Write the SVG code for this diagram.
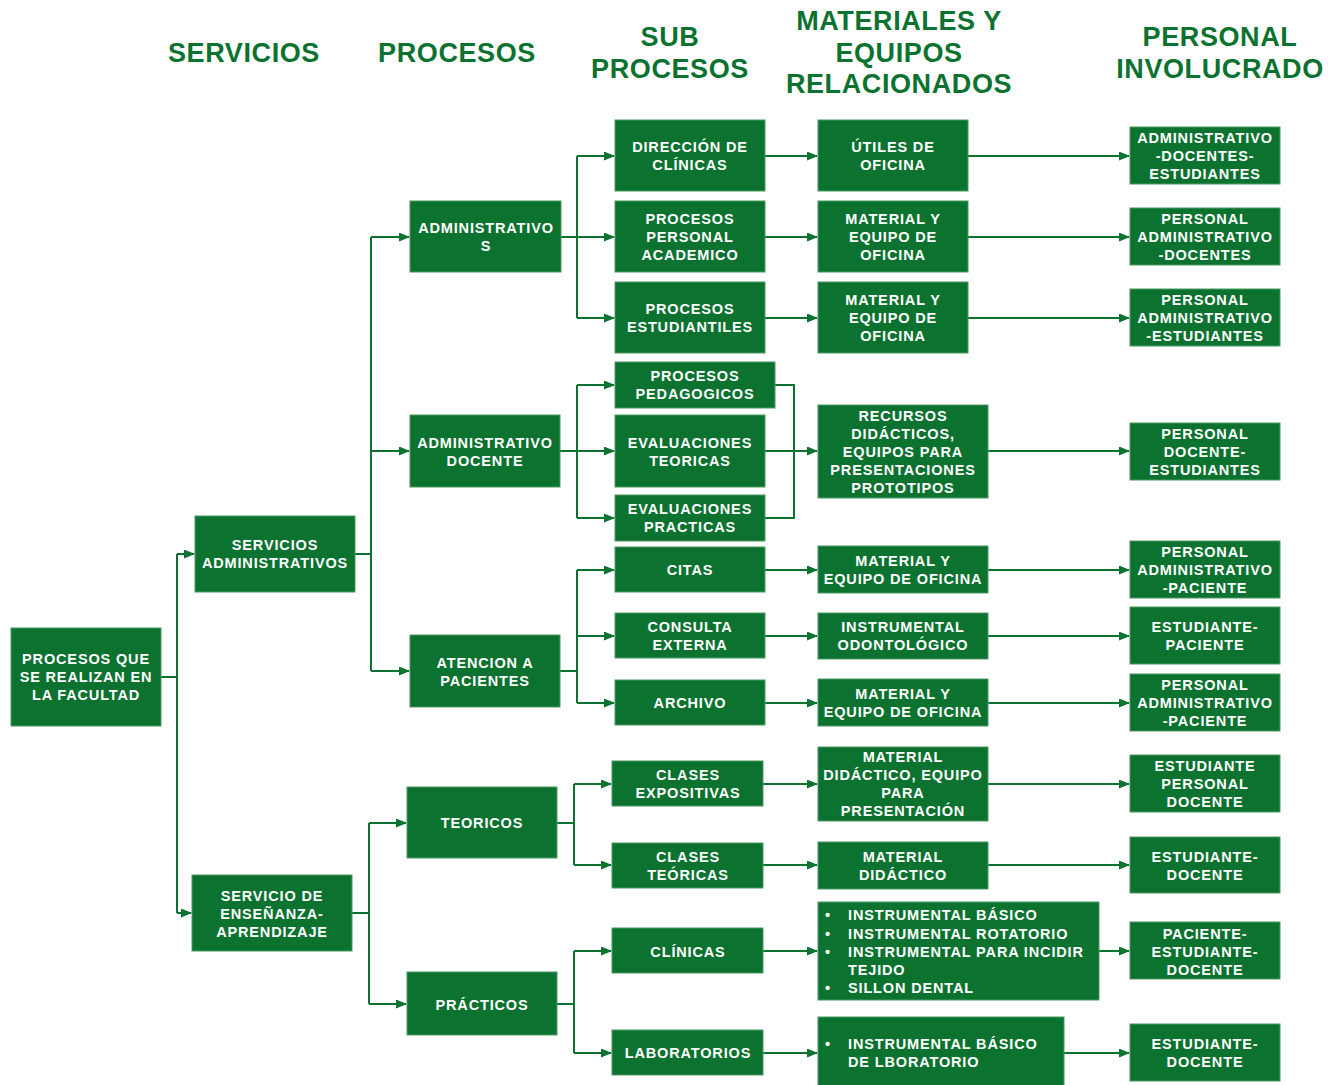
<svg xmlns="http://www.w3.org/2000/svg" width="1328" height="1085" viewBox="0 0 1328 1085">
  <style>
    .box { fill: #0b7230; stroke: #4c9a62; stroke-width: 1; }
    .t { font-family: "Liberation Sans", Arial, sans-serif; font-weight: bold; font-size: 14.5px; letter-spacing: 0.85px; fill: #ffffff; text-anchor: middle; }
    .tl { font-family: "Liberation Sans", Arial, sans-serif; font-weight: bold; font-size: 14.5px; letter-spacing: 0.85px; fill: #ffffff; }
    .h { font-family: "Liberation Sans", Arial, sans-serif; font-weight: bold; font-size: 27px; letter-spacing: 0.6px; fill: #0b7230; text-anchor: middle; }
    .c { fill: none; stroke: #0b7230; stroke-width: 2; }
    .a { fill: none; stroke: #0b7230; stroke-width: 2; marker-end: url(#arr); }
  </style>
  <defs>
    <marker id="arr" markerWidth="11" markerHeight="10" refX="10" refY="4.5" orient="auto" markerUnits="userSpaceOnUse">
      <path d="M0,0 L11,4.5 L0,9 Z" fill="#0b7230"/>
    </marker>
  </defs>

  <rect width="1328" height="1085" fill="#ffffff"/>

  <!-- column headings -->
  <g id="headers">
    <text class="h" x="244" y="62">SERVICIOS</text>
    <text class="h" x="457" y="62">PROCESOS</text>
    <text class="h" x="670" y="46">SUB</text>
    <text class="h" x="670" y="78">PROCESOS</text>
    <text class="h" x="899" y="30">MATERIALES Y</text>
    <text class="h" x="899" y="62">EQUIPOS</text>
    <text class="h" x="899" y="93">RELACIONADOS</text>
    <text class="h" x="1220" y="46">PERSONAL</text>
    <text class="h" x="1220" y="78">INVOLUCRADO</text>
  </g>

  <!-- connectors -->
  <g id="connectors">
    <!-- root to services -->
    <path class="c" d="M161,677 H177"/>
    <path class="c" d="M177,554 V913"/>
    <path class="a" d="M177,554 H194"/>
    <path class="a" d="M177,913 H191"/>
    <!-- administrative services to processes -->
    <path class="c" d="M355,554 H371"/>
    <path class="c" d="M371,237 V671"/>
    <path class="a" d="M371,237 H409"/>
    <path class="a" d="M371,451 H409"/>
    <path class="a" d="M371,671 H409"/>
    <!-- teaching service to processes -->
    <path class="c" d="M352,913 H369"/>
    <path class="c" d="M369,823 V1004"/>
    <path class="a" d="M369,823 H406"/>
    <path class="a" d="M369,1004 H406"/>
    <!-- ADMINISTRATIVOS -->
    <path class="c" d="M561,237 H577"/>
    <path class="c" d="M577,156 V318"/>
    <path class="a" d="M577,156 H614"/>
    <path class="a" d="M577,237 H614"/>
    <path class="a" d="M577,318 H614"/>
    <!-- ADMINISTRATIVO DOCENTE -->
    <path class="c" d="M560,451 H577"/>
    <path class="c" d="M577,385 V518"/>
    <path class="a" d="M577,385 H614"/>
    <path class="a" d="M577,451 H614"/>
    <path class="a" d="M577,518 H614"/>
    <!-- ATENCION A PACIENTES -->
    <path class="c" d="M560,671 H577"/>
    <path class="c" d="M577,570 V703"/>
    <path class="a" d="M577,570 H614"/>
    <path class="a" d="M577,636 H614"/>
    <path class="a" d="M577,703 H614"/>
    <!-- TEORICOS -->
    <path class="c" d="M557,823 H574"/>
    <path class="c" d="M574,784 V865"/>
    <path class="a" d="M574,784 H611"/>
    <path class="a" d="M574,865 H611"/>
    <!-- PRÁCTICOS -->
    <path class="c" d="M557,1004 H574"/>
    <path class="c" d="M574,951 V1053"/>
    <path class="a" d="M574,951 H611"/>
    <path class="a" d="M574,1053 H611"/>
    <!-- sub-processes to materials -->
    <path class="a" d="M765,156 H817"/>
    <path class="a" d="M765,237 H817"/>
    <path class="a" d="M765,318 H817"/>
    <path class="c" d="M775,385 H794 V518 H765"/>
    <path class="a" d="M765,451 H817"/>
    <path class="a" d="M765,570 H817"/>
    <path class="a" d="M765,636 H817"/>
    <path class="a" d="M765,703 H817"/>
    <path class="a" d="M763,784 H817"/>
    <path class="a" d="M763,865 H817"/>
    <path class="a" d="M763,951 H817"/>
    <path class="a" d="M763,1053 H817"/>
    <!-- materials to staff -->
    <path class="a" d="M968,156 H1129"/>
    <path class="a" d="M968,237 H1129"/>
    <path class="a" d="M968,318 H1129"/>
    <path class="a" d="M988,451 H1129"/>
    <path class="a" d="M988,570 H1129"/>
    <path class="a" d="M988,636 H1129"/>
    <path class="a" d="M988,703 H1129"/>
    <path class="a" d="M988,784 H1129"/>
    <path class="a" d="M988,865 H1129"/>
    <path class="a" d="M1099,951 H1129"/>
    <path class="a" d="M1064,1053 H1129"/>
  </g>

  <!-- root -->
  <g id="n-root">
    <rect class="box" x="11" y="628" width="150" height="98"/>
    <text class="t" x="86" y="664">PROCESOS QUE</text>
    <text class="t" x="86" y="682">SE REALIZAN EN</text>
    <text class="t" x="86" y="700">LA FACULTAD</text>
  </g>

  <!-- services -->
  <g id="n-serv-admin">
    <rect class="box" x="195" y="516" width="160" height="76"/>
    <text class="t" x="275" y="550">SERVICIOS</text>
    <text class="t" x="275" y="568">ADMINISTRATIVOS</text>
  </g>
  <g id="n-serv-ense">
    <rect class="box" x="192" y="875" width="160" height="76"/>
    <text class="t" x="272" y="901">SERVICIO DE</text>
    <text class="t" x="272" y="919">ENSEÑANZA-</text>
    <text class="t" x="272" y="937">APRENDIZAJE</text>
  </g>

  <!-- processes -->
  <g id="n-administrativos">
    <rect class="box" x="410" y="201" width="151" height="71"/>
    <text class="t" x="486" y="233">ADMINISTRATIVO</text>
    <text class="t" x="486" y="251">S</text>
  </g>
  <g id="n-admin-docente">
    <rect class="box" x="410" y="415" width="150" height="72"/>
    <text class="t" x="485" y="448">ADMINISTRATIVO</text>
    <text class="t" x="485" y="466">DOCENTE</text>
  </g>
  <g id="n-atencion">
    <rect class="box" x="410" y="635" width="150" height="72"/>
    <text class="t" x="485" y="668">ATENCION A</text>
    <text class="t" x="485" y="686">PACIENTES</text>
  </g>
  <g id="n-teoricos">
    <rect class="box" x="407" y="787" width="150" height="71"/>
    <text class="t" x="482" y="828">TEORICOS</text>
  </g>
  <g id="n-practicos">
    <rect class="box" x="407" y="972" width="150" height="63"/>
    <text class="t" x="482" y="1010">PRÁCTICOS</text>
  </g>

  <!-- sub-processes -->
  <g id="n-direccion">
    <rect class="box" x="615" y="120" width="150" height="71"/>
    <text class="t" x="690" y="152">DIRECCIÓN DE</text>
    <text class="t" x="690" y="170">CLÍNICAS</text>
  </g>
  <g id="n-personal-academico">
    <rect class="box" x="615" y="201" width="150" height="71"/>
    <text class="t" x="690" y="224">PROCESOS</text>
    <text class="t" x="690" y="242">PERSONAL</text>
    <text class="t" x="690" y="260">ACADEMICO</text>
  </g>
  <g id="n-estudiantiles">
    <rect class="box" x="615" y="282" width="150" height="71"/>
    <text class="t" x="690" y="314">PROCESOS</text>
    <text class="t" x="690" y="332">ESTUDIANTILES</text>
  </g>
  <g id="n-pedagogicos">
    <rect class="box" x="615" y="362" width="160" height="46"/>
    <text class="t" x="695" y="381">PROCESOS</text>
    <text class="t" x="695" y="399">PEDAGOGICOS</text>
  </g>
  <g id="n-eval-teoricas">
    <rect class="box" x="615" y="415" width="150" height="72"/>
    <text class="t" x="690" y="448">EVALUACIONES</text>
    <text class="t" x="690" y="466">TEORICAS</text>
  </g>
  <g id="n-eval-practicas">
    <rect class="box" x="615" y="495" width="150" height="46"/>
    <text class="t" x="690" y="514">EVALUACIONES</text>
    <text class="t" x="690" y="532">PRACTICAS</text>
  </g>
  <g id="n-citas">
    <rect class="box" x="615" y="547" width="150" height="45"/>
    <text class="t" x="690" y="575">CITAS</text>
  </g>
  <g id="n-consulta">
    <rect class="box" x="615" y="613" width="150" height="45"/>
    <text class="t" x="690" y="632">CONSULTA</text>
    <text class="t" x="690" y="650">EXTERNA</text>
  </g>
  <g id="n-archivo">
    <rect class="box" x="615" y="680" width="150" height="45"/>
    <text class="t" x="690" y="708">ARCHIVO</text>
  </g>
  <g id="n-expositivas">
    <rect class="box" x="612" y="761" width="151" height="45"/>
    <text class="t" x="688" y="780">CLASES</text>
    <text class="t" x="688" y="798">EXPOSITIVAS</text>
  </g>
  <g id="n-clases-teoricas">
    <rect class="box" x="612" y="843" width="151" height="45"/>
    <text class="t" x="688" y="862">CLASES</text>
    <text class="t" x="688" y="880">TEÓRICAS</text>
  </g>
  <g id="n-clinicas">
    <rect class="box" x="612" y="928" width="151" height="45"/>
    <text class="t" x="688" y="957">CLÍNICAS</text>
  </g>
  <g id="n-laboratorios">
    <rect class="box" x="612" y="1030" width="151" height="45"/>
    <text class="t" x="688" y="1058">LABORATORIOS</text>
  </g>

  <!-- materials and equipment -->
  <g id="m-utiles">
    <rect class="box" x="818" y="120" width="150" height="71"/>
    <text class="t" x="893" y="152">ÚTILES DE</text>
    <text class="t" x="893" y="170">OFICINA</text>
  </g>
  <g id="m-oficina-1">
    <rect class="box" x="818" y="201" width="150" height="71"/>
    <text class="t" x="893" y="224">MATERIAL Y</text>
    <text class="t" x="893" y="242">EQUIPO DE</text>
    <text class="t" x="893" y="260">OFICINA</text>
  </g>
  <g id="m-oficina-2">
    <rect class="box" x="818" y="282" width="150" height="71"/>
    <text class="t" x="893" y="305">MATERIAL Y</text>
    <text class="t" x="893" y="323">EQUIPO DE</text>
    <text class="t" x="893" y="341">OFICINA</text>
  </g>
  <g id="m-recursos">
    <rect class="box" x="818" y="405" width="170" height="93"/>
    <text class="t" x="903" y="421">RECURSOS</text>
    <text class="t" x="903" y="439">DIDÁCTICOS,</text>
    <text class="t" x="903" y="457">EQUIPOS PARA</text>
    <text class="t" x="903" y="475">PRESENTACIONES</text>
    <text class="t" x="903" y="493">PROTOTIPOS</text>
  </g>
  <g id="m-oficina-citas">
    <rect class="box" x="818" y="546" width="170" height="47"/>
    <text class="t" x="903" y="566">MATERIAL Y</text>
    <text class="t" x="903" y="584">EQUIPO DE OFICINA</text>
  </g>
  <g id="m-odontologico">
    <rect class="box" x="818" y="613" width="170" height="46"/>
    <text class="t" x="903" y="632">INSTRUMENTAL</text>
    <text class="t" x="903" y="650">ODONTOLÓGICO</text>
  </g>
  <g id="m-oficina-archivo">
    <rect class="box" x="818" y="679" width="170" height="47"/>
    <text class="t" x="903" y="699">MATERIAL Y</text>
    <text class="t" x="903" y="717">EQUIPO DE OFICINA</text>
  </g>
  <g id="m-didactico-presentacion">
    <rect class="box" x="818" y="747" width="170" height="74"/>
    <text class="t" x="903" y="762">MATERIAL</text>
    <text class="t" x="903" y="780">DIDÁCTICO, EQUIPO</text>
    <text class="t" x="903" y="798">PARA</text>
    <text class="t" x="903" y="816">PRESENTACIÓN</text>
  </g>
  <g id="m-didactico">
    <rect class="box" x="818" y="842" width="170" height="47"/>
    <text class="t" x="903" y="862">MATERIAL</text>
    <text class="t" x="903" y="880">DIDÁCTICO</text>
  </g>
  <g id="m-clinicas">
    <rect class="box" x="818" y="902" width="281" height="98"/>
    <text class="tl" x="825" y="920">•</text>
    <text class="tl" x="848" y="920">INSTRUMENTAL BÁSICO</text>
    <text class="tl" x="825" y="939">•</text>
    <text class="tl" x="848" y="939">INSTRUMENTAL ROTATORIO</text>
    <text class="tl" x="825" y="957">•</text>
    <text class="tl" x="848" y="957">INSTRUMENTAL PARA INCIDIR</text>
    <text class="tl" x="848" y="975">TEJIDO</text>
    <text class="tl" x="825" y="993">•</text>
    <text class="tl" x="848" y="993">SILLON DENTAL</text>
  </g>
  <g id="m-laboratorio">
    <rect class="box" x="818" y="1017" width="246" height="70"/>
    <text class="tl" x="825" y="1049">•</text>
    <text class="tl" x="848" y="1049">INSTRUMENTAL BÁSICO</text>
    <text class="tl" x="848" y="1067">DE LBORATORIO</text>
  </g>

  <!-- staff involved -->
  <g id="p-1">
    <rect class="box" x="1130" y="127" width="150" height="57"/>
    <text class="t" x="1205" y="143">ADMINISTRATIVO</text>
    <text class="t" x="1205" y="161">-DOCENTES-</text>
    <text class="t" x="1205" y="179">ESTUDIANTES</text>
  </g>
  <g id="p-2">
    <rect class="box" x="1130" y="208" width="150" height="57"/>
    <text class="t" x="1205" y="224">PERSONAL</text>
    <text class="t" x="1205" y="242">ADMINISTRATIVO</text>
    <text class="t" x="1205" y="260">-DOCENTES</text>
  </g>
  <g id="p-3">
    <rect class="box" x="1130" y="289" width="150" height="57"/>
    <text class="t" x="1205" y="305">PERSONAL</text>
    <text class="t" x="1205" y="323">ADMINISTRATIVO</text>
    <text class="t" x="1205" y="341">-ESTUDIANTES</text>
  </g>
  <g id="p-4">
    <rect class="box" x="1130" y="423" width="150" height="57"/>
    <text class="t" x="1205" y="439">PERSONAL</text>
    <text class="t" x="1205" y="457">DOCENTE-</text>
    <text class="t" x="1205" y="475">ESTUDIANTES</text>
  </g>
  <g id="p-5">
    <rect class="box" x="1130" y="541" width="150" height="57"/>
    <text class="t" x="1205" y="557">PERSONAL</text>
    <text class="t" x="1205" y="575">ADMINISTRATIVO</text>
    <text class="t" x="1205" y="593">-PACIENTE</text>
  </g>
  <g id="p-6">
    <rect class="box" x="1130" y="607" width="150" height="57"/>
    <text class="t" x="1205" y="632">ESTUDIANTE-</text>
    <text class="t" x="1205" y="650">PACIENTE</text>
  </g>
  <g id="p-7">
    <rect class="box" x="1130" y="674" width="150" height="57"/>
    <text class="t" x="1205" y="690">PERSONAL</text>
    <text class="t" x="1205" y="708">ADMINISTRATIVO</text>
    <text class="t" x="1205" y="726">-PACIENTE</text>
  </g>
  <g id="p-8">
    <rect class="box" x="1130" y="755" width="150" height="57"/>
    <text class="t" x="1205" y="771">ESTUDIANTE</text>
    <text class="t" x="1205" y="789">PERSONAL</text>
    <text class="t" x="1205" y="807">DOCENTE</text>
  </g>
  <g id="p-9">
    <rect class="box" x="1130" y="837" width="150" height="56"/>
    <text class="t" x="1205" y="862">ESTUDIANTE-</text>
    <text class="t" x="1205" y="880">DOCENTE</text>
  </g>
  <g id="p-10">
    <rect class="box" x="1130" y="922" width="150" height="57"/>
    <text class="t" x="1205" y="939">PACIENTE-</text>
    <text class="t" x="1205" y="957">ESTUDIANTE-</text>
    <text class="t" x="1205" y="975">DOCENTE</text>
  </g>
  <g id="p-11">
    <rect class="box" x="1130" y="1024" width="150" height="57"/>
    <text class="t" x="1205" y="1049">ESTUDIANTE-</text>
    <text class="t" x="1205" y="1067">DOCENTE</text>
  </g>
</svg>
